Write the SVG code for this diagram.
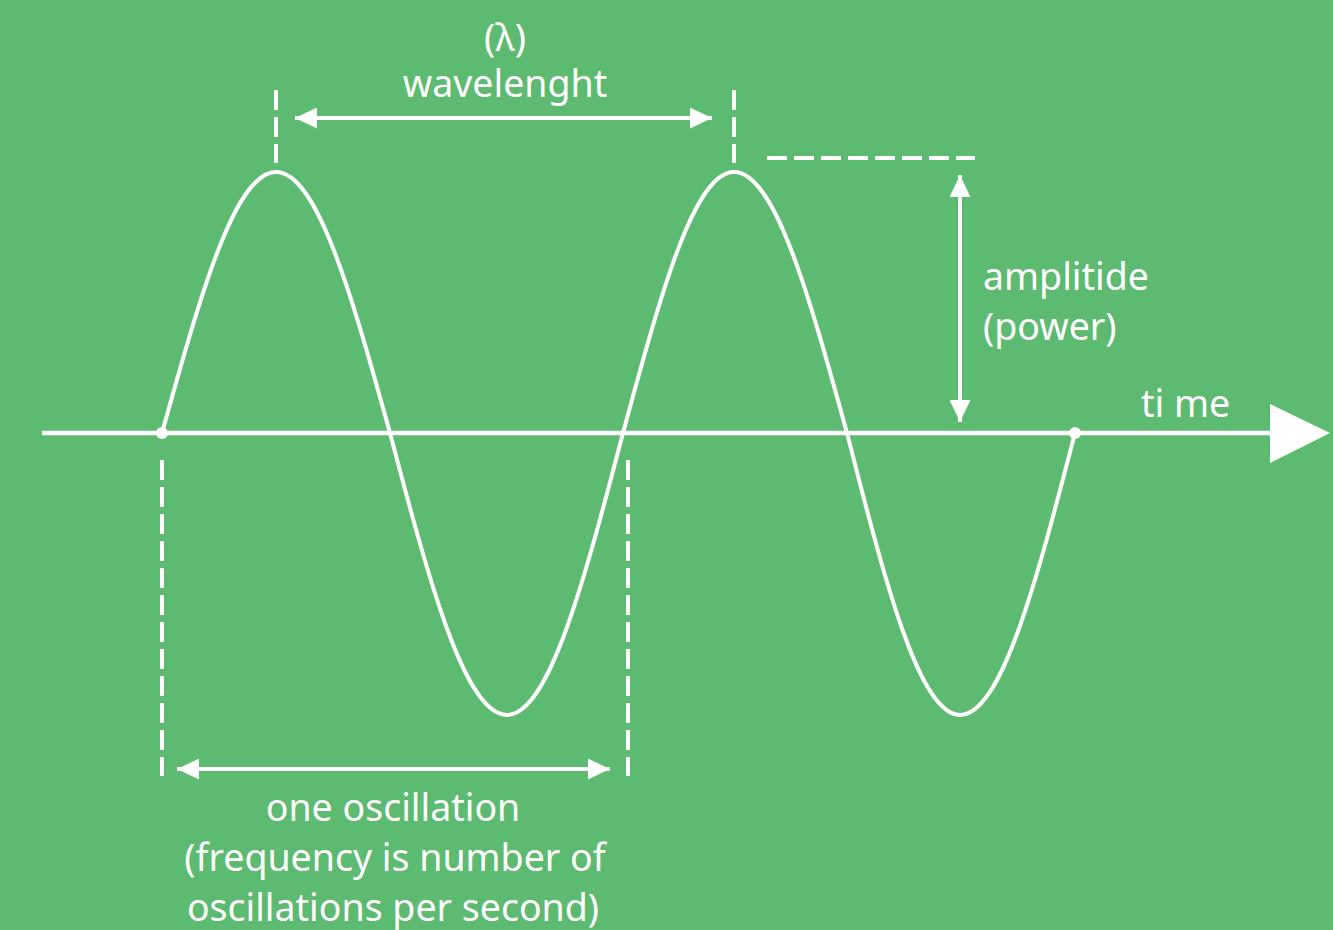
<svg xmlns="http://www.w3.org/2000/svg" width="1333" height="930" viewBox="0 0 1333 930">
  <defs>
    <marker id="ah" viewBox="0 0 22 21" refX="22" refY="10.5" markerWidth="22" markerHeight="21" markerUnits="userSpaceOnUse" orient="auto-start-reverse">
      <path d="M0,0 L22,10.5 L0,21 Z" fill="#ffffff"/>
    </marker>
  </defs>
  <style>
    .ln { stroke: #ffffff; stroke-width: 4; fill: none; }
    .dash { stroke: #ffffff; stroke-width: 4; fill: none; stroke-dasharray: 20 7; }
    .wave { stroke: #ffffff; stroke-width: 4; fill: none; }
    .txt { font-family: "Noto Sans", "Open Sans", sans-serif; font-size: 37.5px; fill: #ffffff; }
  </style>
  <rect x="0" y="0" width="1333" height="930" fill="#5dba71"/>

  <g id="axis">
    <line class="ln" x1="42" y1="433" x2="1272" y2="433" style="stroke-width:4.5"/>
    <path d="M1270,404 L1330,433 L1270,463 Z" fill="#ffffff"/>
    <text class="txt" x="1141" y="417">ti me</text>
  </g>

  <g id="wave">
    <path class="wave" d="M162,433 C200.1,295.9 234.8,172 276,172 C317.2,172 351.9,295.9 390,433 C429.1,581.1 464.8,715 507,715 C548.9,715 584.2,581.1 623,433 C660.1,295.9 693.9,172 734,172 C774.8,172 809.2,295.9 847,433 C884.8,581.1 919.2,715 960,715 C1001.5,715 1036.6,581.1 1075,433"/>
    <circle cx="162" cy="433" r="6" fill="#ffffff"/>
    <circle cx="1075" cy="433" r="6" fill="#ffffff"/>
  </g>

  <g id="guides">
    <line class="dash" x1="276" y1="90" x2="276" y2="163"/>
    <line class="dash" x1="734" y1="90" x2="734" y2="163"/>
    <line class="dash" x1="767" y1="158" x2="975" y2="158"/>
    <line class="dash" x1="162" y1="460" x2="162" y2="776"/>
    <line class="dash" x1="628" y1="460" x2="628" y2="776"/>
  </g>

  <g id="connectors">
    <line class="ln" x1="295" y1="118" x2="712" y2="118" marker-start="url(#ah)" marker-end="url(#ah)"/>
    <line class="ln" x1="960" y1="175" x2="960" y2="422" marker-start="url(#ah)" marker-end="url(#ah)"/>
    <line class="ln" x1="177" y1="769" x2="610" y2="769" marker-start="url(#ah)" marker-end="url(#ah)"/>
  </g>

  <g id="wavelength-label">
    <text class="txt" x="505" y="51" text-anchor="middle">(λ)</text>
    <text class="txt" x="505" y="97" text-anchor="middle">wavelenght</text>
  </g>

  <g id="amplitude-label">
    <text class="txt" x="983" y="290">amplitide</text>
    <text class="txt" x="983" y="340">(power)</text>
  </g>

  <g id="oscillation-label">
    <text class="txt" x="393" y="821" text-anchor="middle">one oscillation</text>
    <text class="txt" x="395" y="871" text-anchor="middle">(frequency is number of</text>
    <text class="txt" x="393" y="921" text-anchor="middle">oscillations per second)</text>
  </g>
</svg>
